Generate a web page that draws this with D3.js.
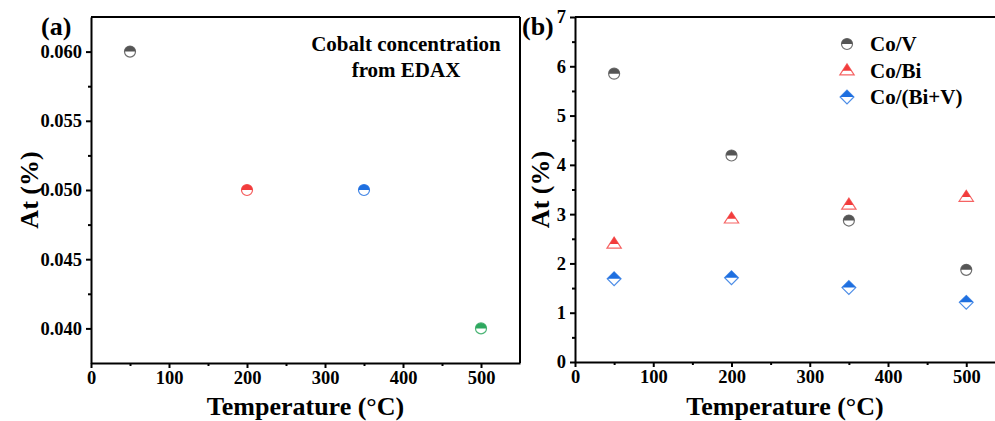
<!DOCTYPE html>
<html><head><meta charset="utf-8">
<script src="https://cdn.jsdelivr.net/npm/d3@7"></script>
<style>
body{margin:0;background:#fff;}
svg{display:block;font-family:"Liberation Serif","Times New Roman",serif;font-weight:bold;}
</style></head>
<body><svg id="c" width="995" height="421"></svg>
<script>
// ---- data ----
const temps = [50, 200, 350, 500];
const cobaltAt = [0.060, 0.050, 0.050, 0.040];
const cobaltColors = ["#555555", "#f23c3c", "#1e6fe0", "#2ea85f"];
const seriesNames = ["Co/V", "Co/Bi", "Co/(Bi+V)"];
const coV = [5.85, 4.19, 2.87, 1.87];
const coBi = [2.40, 2.91, 3.19, 3.35];
const coBiV = [1.69, 1.71, 1.51, 1.21];
const seriesColors = ["#555555", "#f23c3c", "#1e6fe0"];
const seriesShapes = ["circle", "triangle", "diamond"];
const xTicks = [0, 100, 200, 300, 400, 500];
const yTicksA = [0.040, 0.045, 0.050, 0.055, 0.060];
const yTicksB = [0, 1, 2, 3, 4, 5, 6, 7];

const svg = d3.select("#c");

function drawMarker(g, shape, color, r) {
  if (shape === "circle") {
    g.append("circle").attr("r", r).attr("fill", "#fff").attr("stroke", color).attr("stroke-width", 1.2).attr("stroke-opacity", 0.85);
    g.append("path").attr("d", `M${-r},0 A${r},${r} 0 0 1 ${r},0 Z`).attr("fill", color);
  } else if (shape === "triangle") {
    const h = r * 2.0, w = r * 1.3;
    const top = -h * 0.6, bot = h * 0.4;
    g.append("path").attr("d", `M0,${top} L${w},${bot} L${-w},${bot} Z`).attr("fill", "#fff").attr("stroke", color).attr("stroke-width", 1.2).attr("stroke-opacity", 0.8);
    const mid = top + h * 0.62;
    const wm = w * 0.62;
    g.append("path").attr("d", `M0,${top} L${wm},${mid} L${-wm},${mid} Z`).attr("fill", color);
  } else {
    const s = r * 1.25;
    g.append("path").attr("d", `M0,${-s} L${s},0 L0,${s} L${-s},0 Z`).attr("fill", "#fff").attr("stroke", color).attr("stroke-width", 1.2).attr("stroke-opacity", 0.8);
    g.append("path").attr("d", `M0,${-s} L${s},0 L${-s},0 Z`).attr("fill", color);
  }
}

function panel(opts) {
  const { x0, x1, y0, y1, yDomain, yTicks, yFmt, minorY, rightBorder, yTitleX } = opts;
  const x = d3.scaleLinear().domain([0, 550]).range([x0, x1]);
  const y = d3.scaleLinear().domain(yDomain).range([y1, y0]);
  const g = svg.append("g");
  g.append("line").attr("x1", x0).attr("x2", x1).attr("y1", y0).attr("y2", y0).attr("stroke", "#000").attr("stroke-width", 2);
  if (rightBorder) g.append("line").attr("x1", x1).attr("x2", x1).attr("y1", y0).attr("y2", y1).attr("stroke", "#000").attr("stroke-width", 2);
  const xa = g.append("g").attr("transform", `translate(0,${y1})`)
    .call(d3.axisBottom(x).tickValues(xTicks).tickSize(5).tickSizeOuter(0).tickPadding(3).tickFormat(d3.format("d")));
  const xm = g.append("g").attr("transform", `translate(0,${y1})`)
    .call(d3.axisBottom(x).tickValues([50, 150, 250, 350, 450]).tickSize(3).tickSizeOuter(0).tickFormat(""));
  xm.select(".domain").remove();
  const ya = g.append("g").attr("transform", `translate(${x0},0)`)
    .call(d3.axisLeft(y).tickValues(yTicks).tickSize(5).tickSizeOuter(0).tickPadding(4).tickFormat(yFmt));
  const ym = g.append("g").attr("transform", `translate(${x0},0)`)
    .call(d3.axisLeft(y).tickValues(minorY).tickSize(3).tickSizeOuter(0).tickFormat(""));
  ym.select(".domain").remove();
  [xa, ya, xm, ym].forEach(a => {
    a.selectAll(".domain").attr("stroke-width", 2);
    a.selectAll(".tick line").attr("stroke-width", 2);
    a.selectAll("text").attr("font-size", 18.5).attr("font-weight", "bold").attr("font-family", "Liberation Serif").attr("fill", "#000");
  });
  svg.append("text").attr("x", (x0 + Math.min(x1, 995)) / 2).attr("y", 415)
    .attr("text-anchor", "middle").attr("font-size", 26).text("Temperature (°C)");
  svg.append("text").attr("transform", `translate(${yTitleX},${(y0 + y1) / 2}) rotate(-90)`)
    .attr("text-anchor", "middle").attr("font-size", 26).text("At (%)");
  return { x, y, g };
}

// Panel (a)
const A = panel({ x0: 91, x1: 520, y0: 17, y1: 363, yDomain: [0.0375, 0.0625], yTicks: yTicksA,
  yFmt: d3.format(".3f"), minorY: [0.0425, 0.0475, 0.0525, 0.0575], rightBorder: true, yTitleX: 38 });
temps.forEach((t, i) => {
  const m = A.g.append("g").attr("transform", `translate(${A.x(t)},${A.y(cobaltAt[i])})`);
  drawMarker(m, "circle", cobaltColors[i], 5.5);
});
svg.append("text").attr("x", 406).attr("y", 51).attr("text-anchor", "middle").attr("font-size", 21).text("Cobalt concentration");
svg.append("text").attr("x", 406).attr("y", 77).attr("text-anchor", "middle").attr("font-size", 21).text("from EDAX");
svg.append("text").attr("x", 41).attr("y", 35).attr("font-size", 26).text("(a)");

// Panel (b)
const B = panel({ x0: 575, x1: 575 + 550 * 0.7825, y0: 17, y1: 362, yDomain: [0, 7], yTicks: yTicksB,
  yFmt: d3.format("d"), minorY: [0.5, 1.5, 2.5, 3.5, 4.5, 5.5, 6.5], rightBorder: false, yTitleX: 549 });
const seriesVals = [coV, coBi, coBiV];
seriesVals.forEach((vals, s) => {
  temps.forEach((t, i) => {
    const m = B.g.append("g").attr("transform", `translate(${B.x(t)},${B.y(vals[i])})`);
    drawMarker(m, seriesShapes[s], seriesColors[s], 5.5);
  });
});
svg.append("text").attr("x", 522).attr("y", 35).attr("font-size", 26).text("(b)");
seriesNames.forEach((n, i) => {
  const yy = 44 + i * 26.5;
  const m = svg.append("g").attr("transform", `translate(847,${yy})`);
  drawMarker(m, seriesShapes[i], seriesColors[i], 5.5);
  svg.append("text").attr("x", 870).attr("y", yy + 7).attr("font-size", 21).text(n);
});
</script></body></html>
